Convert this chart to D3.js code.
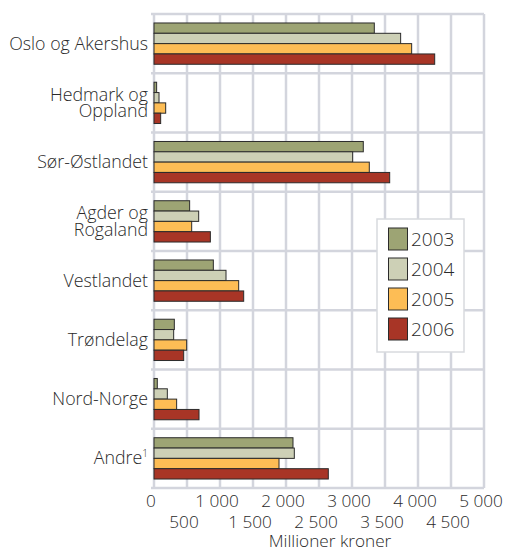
<!DOCTYPE html>
<html><head><meta charset="utf-8">
<script src="https://cdn.jsdelivr.net/npm/d3@7"></script>
<style>
body{margin:0;background:#fff;}
svg text{font-family:"Open Sans",sans-serif;fill:#2a2a2a;font-weight:300;}
</style></head>
<body><svg id="c" width="505" height="551"></svg>
<script>
const categories = ["Oslo og Akershus","Hedmark og\nOppland","Sør-Østlandet","Agder og\nRogaland","Vestlandet","Trøndelag","Nord-Norge","Andre¹"];
const years = ["2003","2004","2005","2006"];
const v2003 = [3338, 40, 3171, 540, 899, 308, 50, 2106];
const v2004 = [3737, 76, 3010, 677, 1091, 298, 202, 2126];
const v2005 = [3904, 177, 3262, 571, 1283, 495, 343, 1894];
const v2006 = [4253, 101, 3571, 854, 1359, 450, 682, 2641];
const series = [v2003, v2004, v2005, v2006];
const colors = ["#9da474","#cdd0b6","#fdbd55","#a83526"];
const ticksMajor = [0,1000,2000,3000,4000,5000];
const ticksMinor = [500,1500,2500,3500,4500];
const axisTitle = "Millioner kroner";

const svg = d3.select("#c");
const L=154, R=484, T=14, B=488;
const x = d3.scaleLinear().domain([0,5000]).range([L,R]);
const y = d3.scaleBand().domain(categories.map((d,i)=>i)).range([T,B]).padding(0);
const yi = d3.scaleBand().domain(years).range([0,y.bandwidth()]).paddingInner(0).paddingOuter(0.87);
const grid = "#d3d5dd";
const fs = "17.8px";
const tfs = "17.2px";

const g = svg.append("g");
d3.range(0,5001,500).forEach(t=>{
  g.append("line").attr("x1",x(t)).attr("x2",x(t)).attr("y1",T).attr("y2",B)
   .attr("stroke",grid).attr("stroke-width",2.5);
});
categories.forEach((c,i)=>{
  g.append("line").attr("x1",L-3).attr("x2",R).attr("y1",y(i)).attr("y2",y(i))
   .attr("stroke",grid).attr("stroke-width",2.5);
});
g.append("line").attr("x1",L-3).attr("x2",R).attr("y1",B).attr("y2",B).attr("stroke",grid).attr("stroke-width",2.5);

categories.forEach((c,i)=>{
  years.forEach((yr,k)=>{
    svg.append("rect")
      .attr("x",x(0)).attr("y",y(i)+yi(yr))
      .attr("width",x(series[k][i])-x(0)).attr("height",yi.bandwidth())
      .attr("fill",colors[k]).attr("stroke","#2b2b2b").attr("stroke-width",1);
  });
});

categories.forEach((c,i)=>{
  const lines = c.split("\n");
  const cy = y(i)+y.bandwidth()/2;
  const lh = 16.5;
  lines.forEach((ln,j)=>{
    const t = svg.append("text").attr("x",148).attr("text-anchor","end")
      .attr("y", cy + (j-(lines.length-1)/2)*lh + 6).attr("font-size",fs);
    if(ln.endsWith("¹")){
      t.text(ln.slice(0,-1));
      t.append("tspan").attr("font-size","10px").attr("dy","-7").text("1");
    } else t.text(ln);
  });
});

ticksMajor.forEach(t=>{
  svg.append("text").attr("x",x(t)-3).attr("y",507).attr("text-anchor","middle")
    .attr("font-size",tfs).text(d3.format(",")(t).replace(/,/g," "));
});
ticksMinor.forEach(t=>{
  svg.append("text").attr("x",x(t)-3).attr("y",528).attr("text-anchor","middle")
    .attr("font-size",tfs).text(d3.format(",")(t).replace(/,/g," "));
});
svg.append("text").attr("x",330).attr("y",547).attr("text-anchor","middle")
  .attr("font-size",tfs).text(axisTitle);

const lg = svg.append("g");
lg.append("rect").attr("x",377).attr("y",219).attr("width",87).attr("height",133)
  .attr("fill","#fff").attr("stroke","#d8dade").attr("stroke-width",1.5);
years.forEach((yr,k)=>{
  const yy = 228 + k*30;
  lg.append("rect").attr("x",388.5).attr("y",yy).attr("width",19).attr("height",22)
    .attr("fill",colors[k]).attr("stroke","#2b2b2b").attr("stroke-width",1);
  lg.append("text").attr("x",411).attr("y",yy+18).attr("font-size","19px").text(yr);
});
</script></body></html>
